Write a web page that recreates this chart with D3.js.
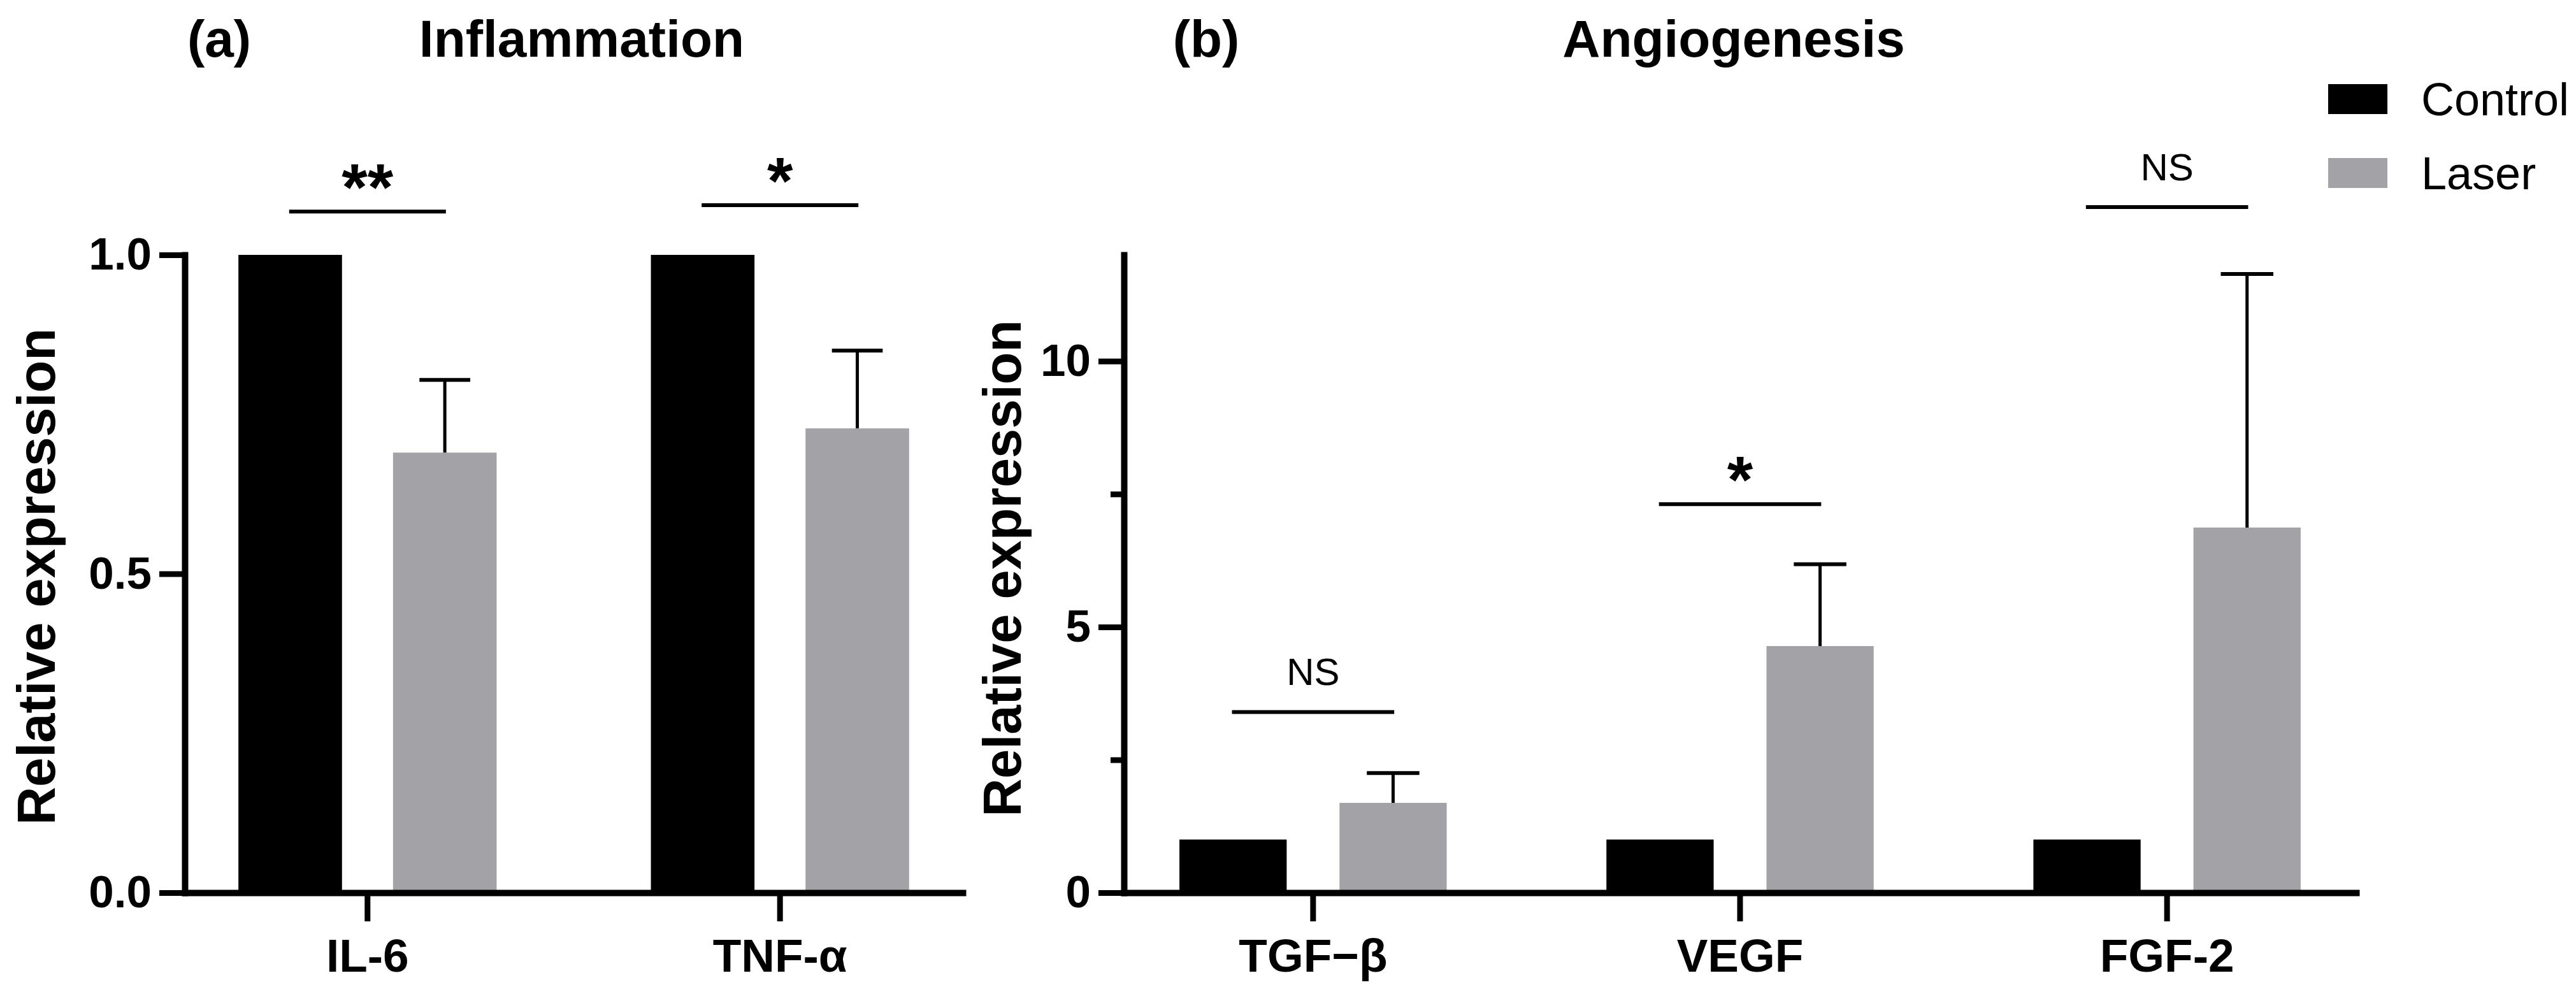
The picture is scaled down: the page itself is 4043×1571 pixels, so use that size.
<!DOCTYPE html>
<html><head><meta charset="utf-8">
<script src="https://cdn.jsdelivr.net/npm/d3@7"></script>
<style>body{margin:0;background:#fff}</style>
</head><body><svg id="c" width="4043" height="1571"></svg>
<script>
// ---------- data ----------
const seriesNames = ["Control", "Laser"];
const seriesColors = ["#000000", "#a3a3a7"];

const inflCategories = ["IL-6", "TNF-α"];
const inflControl = [1, 1];
const inflLaser = [0.69, 0.728];
const inflLaserErr = [0.114, 0.122];
const inflSigCategories = ["IL-6", "TNF-α"];
const inflSigLabels = ["**", "*"];
const inflSigValues = [1.068, 1.078];
const inflTicks = [0, 0.5, 1.0];

const angioCategories = ["TGF−β", "VEGF", "FGF-2"];
const angioControl = [1, 1, 1];
const angioLaser = [1.69, 4.64, 6.87];
const angioLaserErr = [0.56, 1.54, 4.77];
const angioSigCategories = ["TGF−β", "VEGF", "FGF-2"];
const angioSigLabels = ["NS", "*", "NS"];
const angioSigValues = [3.40, 7.31, 12.90];
const angioTicks = [0, 5, 10];
const angioMinorTicks = [2.5, 7.5];

// ---------- drawing ----------
const svg = d3.select("#c");
const FONT = "'Liberation Sans', Arial, Helvetica, sans-serif";

function drawPanel(o) {
  const g = svg.append("g");
  const x = d3.scaleBand().domain(o.categories).range(o.xRange)
    .paddingInner(0.374).paddingOuter(0.13);
  const xs = d3.scaleBand().domain(seriesNames).range([0, x.bandwidth()])
    .paddingInner(0.33).paddingOuter(0);
  const y = d3.scaleLinear().domain(o.yDomain).range(o.yRange);
  const color = d3.scaleOrdinal().domain(seriesNames).range(seriesColors);

  const rows = o.categories.map((c, i) => ({
    category: c, control: o.control[i], laser: o.laser[i], err: o.err[i]
  }));

  // bars
  const grp = g.selectAll("g.grp").data(rows).join("g")
    .attr("transform", d => `translate(${x(d.category)},0)`);
  grp.selectAll("rect").data(d => [
      {s: "Control", v: d.control}, {s: "Laser", v: d.laser}])
    .join("rect")
    .attr("x", d => xs(d.s)).attr("width", xs.bandwidth())
    .attr("y", d => y(d.v)).attr("height", d => y(0) - y(d.v))
    .attr("fill", d => color(d.s));

  // error bars (laser, upward)
  const capW = xs.bandwidth() * 0.49;
  grp.each(function(d) {
    const cx = xs("Laser") + xs.bandwidth() / 2;
    const gg = d3.select(this);
    gg.append("line").attr("x1", cx).attr("x2", cx)
      .attr("y1", y(d.laser)).attr("y2", y(d.laser + d.err))
      .attr("stroke", "#000").attr("stroke-width", 5);
    gg.append("line").attr("x1", cx - capW / 2).attr("x2", cx + capW / 2)
      .attr("y1", y(d.laser + d.err)).attr("y2", y(d.laser + d.err))
      .attr("stroke", "#000").attr("stroke-width", 6);
  });

  // significance annotations
  const sig = o.sigCategories.map((c, i) => ({category: c, label: o.sigLabels[i], value: o.sigValues[i]}));
  const lw = x.step() * 0.38;
  sig.forEach(s => {
    const cx = x(s.category) + x.bandwidth() / 2;
    g.append("line").attr("x1", cx - lw / 2).attr("x2", cx + lw / 2)
      .attr("y1", y(s.value)).attr("y2", y(s.value))
      .attr("stroke", "#000").attr("stroke-width", 6);
    const isNS = s.label === "NS";
    g.append("text").attr("x", cx).attr("y", y(s.value) - (isNS ? 42 : 2))
      .attr("text-anchor", "middle")
      .attr("font-family", FONT)
      .attr("font-size", isNS ? 60 : 104)
      .attr("font-weight", isNS ? "normal" : "bold")
      .text(s.label);
  });

  // axes
  const yAxis = d3.axisLeft(y).tickValues(o.ticks).tickSize(40).tickSizeOuter(0)
    .tickPadding(12).tickFormat(o.tickFormat);
  const ya = g.append("g").attr("transform", `translate(${o.xRange[0]},0)`).call(yAxis);
  if (o.minorTicks) {
    g.append("g").attr("transform", `translate(${o.xRange[0]},0)`)
      .call(d3.axisLeft(y).tickValues(o.minorTicks).tickSize(21).tickFormat(""))
      .call(a => a.select(".domain").remove())
      .selectAll("line").attr("stroke-width", 9);
  }
  const xAxis = d3.axisBottom(x).tickSize(45).tickSizeOuter(0).tickPadding(27);
  const xa = g.append("g").attr("transform", `translate(0,${y(0)})`).call(xAxis);

  [ya, xa].forEach(a => {
    a.attr("font-family", FONT).attr("font-weight", "bold");
    a.select(".domain").attr("stroke-width", 10).attr("stroke-linecap", "square");
    a.selectAll(".tick line").attr("stroke-width", 9);
  });
  ya.attr("font-size", 71);
  xa.attr("font-size", 73);

  // y label
  g.append("text")
    .attr("transform", `translate(${o.yLabelPos[0]},${o.yLabelPos[1]}) rotate(-90)`)
    .attr("text-anchor", "middle").attr("font-family", FONT)
    .attr("font-weight", "bold").attr("font-size", 83)
    .text("Relative expression");

  // titles
  g.append("text").attr("x", o.tagX).attr("y", 89).attr("text-anchor", "middle")
    .attr("font-family", FONT).attr("font-weight", "bold").attr("font-size", 82)
    .text(o.tag);
  g.append("text").attr("x", o.titleX).attr("y", 89).attr("text-anchor", "middle")
    .attr("font-family", FONT).attr("font-weight", "bold").attr("font-size", 82)
    .text(o.title);
}

drawPanel({
  categories: inflCategories, control: inflControl, laser: inflLaser, err: inflLaserErr,
  sigCategories: inflSigCategories, sigLabels: inflSigLabels, sigValues: inflSigValues,
  ticks: inflTicks, tickFormat: d3.format(".1f"),
  xRange: [290, 1511], yDomain: [0, 1], yRange: [1401, 400],
  yLabelPos: [86, 905], tag: "(a)", tagX: 344, title: "Inflammation", titleX: 913
});

drawPanel({
  categories: angioCategories, control: angioControl, laser: angioLaser, err: angioLaserErr,
  sigCategories: angioSigCategories, sigLabels: angioSigLabels, sigValues: angioSigValues,
  ticks: angioTicks, minorTicks: angioMinorTicks, tickFormat: d3.format("d"),
  xRange: [1764, 3698], yDomain: [0, 12], yRange: [1401, 400],
  yLabelPos: [1602, 892], tag: "(b)", tagX: 1893, title: "Angiogenesis", titleX: 2721
});

// legend
const leg = svg.append("g").selectAll("g").data(seriesNames).join("g")
  .attr("transform", (d, i) => `translate(3654,${132 + i * 116})`);
leg.append("rect").attr("width", 93).attr("height", 47)
  .attr("fill", (d, i) => seriesColors[i]);
leg.append("text").attr("x", 146).attr("y", 49)
  .attr("font-family", FONT).attr("font-size", 72).text(d => d);
</script>
</body></html>
